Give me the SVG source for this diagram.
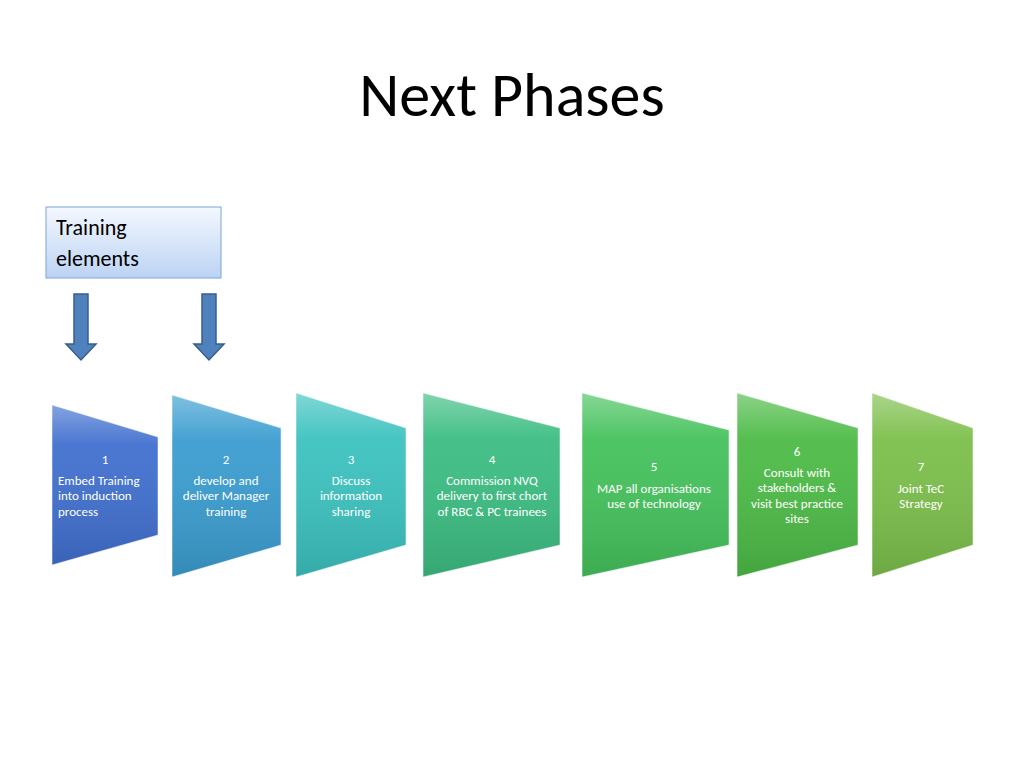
<svg xmlns="http://www.w3.org/2000/svg" width="1024" height="768" viewBox="0 0 1024 768">
<defs>
<linearGradient id="bx" x1="0" y1="0" x2="0" y2="1"><stop offset="0" stop-color="#f4f8fe"/><stop offset="1" stop-color="#bcd3f4"/></linearGradient>
<linearGradient id="sh" x1="0" y1="0" x2="0" y2="1"><stop offset="0" stop-color="#fff" stop-opacity="0.35"/><stop offset="0.25" stop-color="#fff" stop-opacity="0.05"/><stop offset="1" stop-color="#000" stop-opacity="0.12"/></linearGradient>
</defs>
<style>
.t{font-family:Carlito,Calibri,"Liberation Sans Narrow","Liberation Sans",sans-serif;fill:#fff;font-size:13px;text-anchor:middle}
.l{text-anchor:start}
.p{stroke:#fff;stroke-opacity:0.5;stroke-width:1}
.a{fill:#4f81bd;stroke:#385d8a;stroke-width:1.5}
</style>
<rect width="1024" height="768" fill="#fff"/>
<text x="512" y="116" font-family="Carlito,Calibri,'Liberation Sans',sans-serif" font-size="62" text-anchor="middle" fill="#000">Next Phases</text>
<g id="training">
<rect x="46" y="207" width="175" height="71" fill="url(#bx)" stroke="#7ba3dc" stroke-width="1"/>
<text font-family="Carlito,Calibri,'Liberation Sans',sans-serif" font-size="22" fill="#000"><tspan x="56" y="235">Training</tspan><tspan x="56" y="266">elements</tspan></text>
</g>
<g id="connectors">
<polygon class="a" points="74,294 88,294 88,344 96,344 81,360 66,344 74,344"/>
<polygon class="a" points="202,294 216,294 216,344 224,344 209,360 194,344 202,344"/>
</g>
<g id="n1"><polygon points="52,405 158,437 158,535 52,565" fill="#4170cf"/><polygon class="p" points="52,405 158,437 158,535 52,565" fill="url(#sh)"/>
<text class="t" x="105" y="464">1</text><text class="t l" x="58" y="485">Embed Training</text><text class="t l" x="58" y="500">into induction</text><text class="t l" x="58" y="516">process</text></g>
<g id="n2"><polygon points="172,395 281,428 281,545 172,577" fill="#3b9dd0"/><polygon class="p" points="172,395 281,428 281,545 172,577" fill="url(#sh)"/>
<text class="t" x="226" y="464">2</text><text class="t" x="226" y="485">develop and</text><text class="t" x="226" y="500">deliver Manager</text><text class="t" x="226" y="516">training</text></g>
<g id="n3"><polygon points="296,393 406,428 406,545 296,577" fill="#3cc2bf"/><polygon class="p" points="296,393 406,428 406,545 296,577" fill="url(#sh)"/>
<text class="t" x="351" y="464">3</text><text class="t" x="351" y="485">Discuss</text><text class="t" x="351" y="500">information</text><text class="t" x="351" y="516">sharing</text></g>
<g id="n4"><polygon points="423,393 560,428 560,545 423,577" fill="#3cbd82"/><polygon class="p" points="423,393 560,428 560,545 423,577" fill="url(#sh)"/>
<text class="t" x="492" y="464">4</text><text class="t" x="492" y="485">Commission NVQ</text><text class="t" x="492" y="500">delivery to  first chort</text><text class="t" x="492" y="516">of RBC &amp; PC trainees</text></g>
<g id="n5"><polygon points="582,393 729,430 729,545 582,577" fill="#45c25c"/><polygon class="p" points="582,393 729,430 729,545 582,577" fill="url(#sh)"/>
<text class="t" x="654" y="471">5</text><text class="t" x="654" y="493">MAP all organisations</text><text class="t" x="654" y="508">use of technology</text></g>
<g id="n6"><polygon points="737,393 858,428 858,545 737,577" fill="#4dbb47"/><polygon class="p" points="737,393 858,428 858,545 737,577" fill="url(#sh)"/>
<text class="t" x="797" y="456">6</text><text class="t" x="797" y="477">Consult with</text><text class="t" x="797" y="492">stakeholders &amp;</text><text class="t" x="797" y="508">visit best practice</text><text class="t" x="797" y="523">sites</text></g>
<g id="n7"><polygon points="872,393 973,428 973,545 872,577" fill="#7cbf4b"/><polygon class="p" points="872,393 973,428 973,545 872,577" fill="url(#sh)"/>
<text class="t" x="921" y="471">7</text><text class="t" x="921" y="493">Joint TeC</text><text class="t" x="921" y="508">Strategy</text></g>
</svg>
